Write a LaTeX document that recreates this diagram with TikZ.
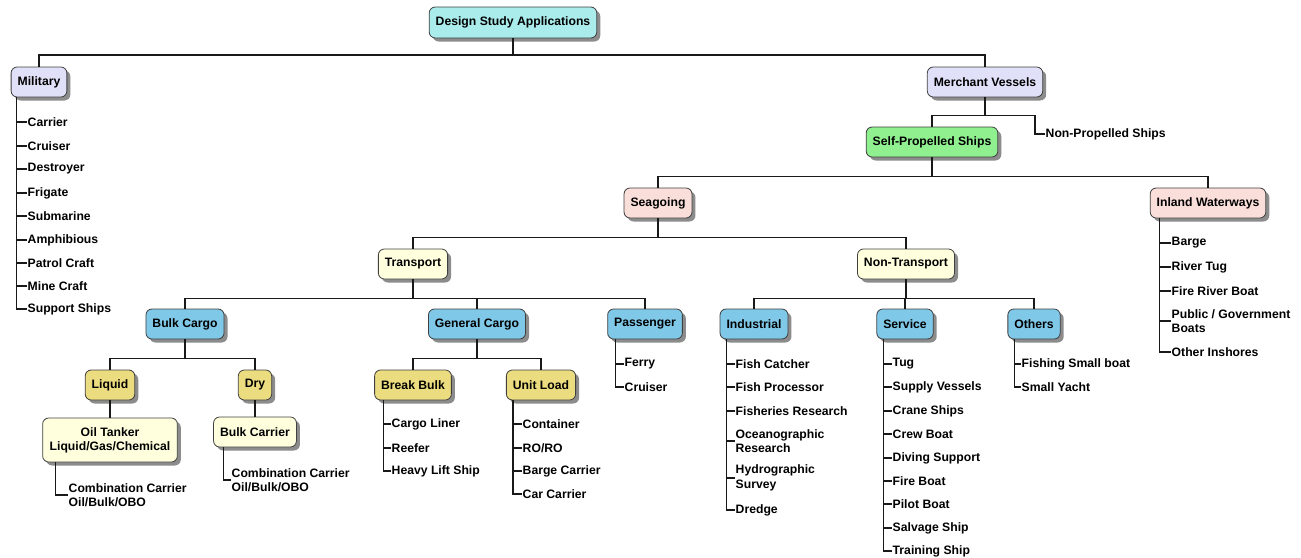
\documentclass[tikz,border=0pt]{standalone}
\usepackage{fontspec}
\setmainfont{Liberation Sans}
\usetikzlibrary{shadows}
\definecolor{cRoot}{RGB}{170,235,235}
\definecolor{cLav}{RGB}{224,224,248}
\definecolor{cGreen}{RGB}{144,240,144}
\definecolor{cPink}{RGB}{250,222,218}
\definecolor{cCream}{RGB}{255,255,222}
\definecolor{cBlue}{RGB}{128,200,232}
\definecolor{cKhaki}{RGB}{236,220,128}
\begin{document}
\begin{tikzpicture}[x=1pt,y=1pt,
  box/.style={draw=black!75, rounded corners=6pt, line width=0.8pt, minimum height=30pt,
    inner xsep=6.5pt, font=\fontsize{12.2}{14}\selectfont\bfseries, align=center,
    drop shadow={shadow xshift=3.5pt, shadow yshift=-3.5pt, fill=black!45, opacity=1}},
  leaf/.style={anchor=west, inner sep=0.5pt, font=\fontsize{12.2}{14.5}\selectfont\bfseries, align=left},
  conn/.style={line width=1.3pt, black!90}]
\useasboundingbox (0,0) rectangle (1301,-557);

% boxes
\node[box, fill=cRoot, minimum height=31pt] (root) at (513,-22.5) {Design Study Applications};
\node[box, fill=cLav] (mil) at (39,-82) {Military};
\node[box, fill=cLav] (mer) at (985,-82) {Merchant Vessels};
\node[box, fill=cGreen] (sp) at (932,-142) {Self-Propelled Ships};
\node[box, fill=cPink] (sea) at (658,-203) {Seagoing};
\node[box, fill=cPink] (inl) at (1208,-203) {Inland Waterways};
\node[box, fill=cCream] (tra) at (413,-264) {Transport};
\node[box, fill=cCream] (ntr) at (906,-264) {Non-Transport};
\node[box, fill=cBlue] (bulk) at (185,-324) {Bulk Cargo};
\node[box, fill=cBlue] (gen) at (477,-324) {General Cargo};
\node[box, fill=cBlue] (pas) at (645,-324) {Passenger};
\node[box, fill=cBlue] (ind) at (754,-324) {Industrial};
\node[box, fill=cBlue] (ser) at (905,-324) {Service};
\node[box, fill=cBlue] (oth) at (1034,-324) {Others};
\node[box, fill=cKhaki] (liq) at (110,-385) {Liquid};
\node[box, fill=cKhaki] (dry) at (255,-385) {Dry};
\node[box, fill=cKhaki] (bb) at (413,-385) {Break Bulk};
\node[box, fill=cKhaki] (ul) at (541,-385) {Unit Load};
\node[box, fill=cCream, minimum height=44pt, inner xsep=7pt] (oil) at (110,-440) {Oil Tanker\\Liquid/Gas/Chemical};
\node[box, fill=cCream] (bc) at (255,-432) {Bulk Carrier};

% tree connectors
\draw[conn] (root.south) -- ++(0,-16.5) -| (mil.north);
\draw[conn] (root.south) -- ++(0,-16.5) -| (mer.north);
\draw[conn] (mer.south) -- ++(0,-18) -| (sp.north);
\node[leaf] (npl) at (1045,-134) {Non-Propelled Ships};
\draw[conn] (mer.south) -- ++(0,-18) -| ([xshift=-10pt]npl.west) -- (npl.west);
\draw[conn] (sp.south) -- ++(0,-19) -| (sea.north);
\draw[conn] (sp.south) -- ++(0,-19) -| (inl.north);
\draw[conn] (sea.south) -- ++(0,-19) -| (tra.north);
\draw[conn] (sea.south) -- ++(0,-19) -| (ntr.north);
\foreach \c in {bulk,gen,pas} \draw[conn] (tra.south) -- ++(0,-19) -| (\c.north);
\foreach \c in {ind,ser,oth} \draw[conn] (ntr.south) -- ++(0,-19) -| (\c.north);
\foreach \c in {liq,dry} \draw[conn] (bulk.south) -- ++(0,-19) -| (\c.north);
\foreach \c in {bb,ul} \draw[conn] (gen.south) -- ++(0,-19) -| (\c.north);
\draw[conn] (liq.south) -- (oil.north);
\draw[conn] (dry.south) -- (bc.north);

% Military leaves
\coordinate (mt) at ([xshift=6pt]mil.south west);
\foreach \t/\y [count=\i] in {Carrier/122,Cruiser/146,Destroyer/169,Frigate/193,Submarine/216,Amphibious/240,Patrol Craft/263,Mine Craft/286,Support Ships/309}
  {\node[leaf] (m\i) at (27,-\y) {\t}; \draw[conn] (mt) |- (m\i.west);}

% Inland leaves
\coordinate (it) at ([xshift=10pt]inl.south west);
\foreach \t/\y [count=\i] in {Barge/243,River Tug/267,Fire River Boat/291,{Public / Government\\Boats}/321,Other Inshores/352}
  {\node[leaf] (w\i) at (1171,-\y) {\t}; \draw[conn] (it) |- (w\i.west);}

% Break bulk leaves
\coordinate (bt) at ([xshift=9pt]bb.south west);
\foreach \t/\y [count=\i] in {Cargo Liner/424,Reefer/448,Heavy Lift Ship/471}
  {\node[leaf] (b\i) at (391,-\y) {\t}; \draw[conn] (bt) |- (b\i.west);}

% Unit load leaves
\coordinate (ut) at ([xshift=7pt]ul.south west);
\foreach \t/\y [count=\i] in {Container/424,{RO/RO}/448,Barge Carrier/471,Car Carrier/494}
  {\node[leaf] (u\i) at (522,-\y) {\t}; \draw[conn] (ut) |- (u\i.west);}

% Passenger leaves
\coordinate (pt) at ([xshift=8pt]pas.south west);
\foreach \t/\y [count=\i] in {Ferry/364,Cruiser/387}
  {\node[leaf] (p\i) at (624,-\y) {\t}; \draw[conn] (pt) |- (p\i.west);}

% Industrial leaves
\coordinate (dt) at ([xshift=7pt]ind.south west);
\foreach \t/\y [count=\i] in {Fish Catcher/364,Fish Processor/387,Fisheries Research/411,{Oceanographic\\Research}/441,{Hydrographic\\Survey}/478,Dredge/510}
  {\node[leaf] (d\i) at (735,-\y) {\t}; \draw[conn] (dt) |- (d\i.west);}

% Service leaves
\coordinate (st) at ([xshift=7pt]ser.south west);
\foreach \t/\y [count=\i] in {Tug/364,Supply Vessels/387,Crane Ships/411,Crew Boat/434,Diving Support/458,Fire Boat/481,Pilot Boat/504,Salvage Ship/528,Training Ship/551}
  {\node[leaf] (s\i) at (892,-\y) {\t}; \draw[conn] (st) |- (s\i.west);}

% Others leaves
\coordinate (ot) at ([xshift=7pt]oth.south west);
\foreach \t/\y [count=\i] in {Fishing Small boat/364,Small Yacht/387}
  {\node[leaf] (o\i) at (1021,-\y) {\t}; \draw[conn] (ot) |- (o\i.west);}

% Combination carriers
\node[leaf] (cc1) at (68,-495) {Combination Carrier\\Oil/Bulk/OBO};
\draw[conn] ([xshift=13pt]oil.south west) |- (cc1.west);
\node[leaf] (cc2) at (231,-480) {Combination Carrier\\Oil/Bulk/OBO};
\draw[conn] ([xshift=10pt]bc.south west) |- (cc2.west);
\end{tikzpicture}
\end{document}
